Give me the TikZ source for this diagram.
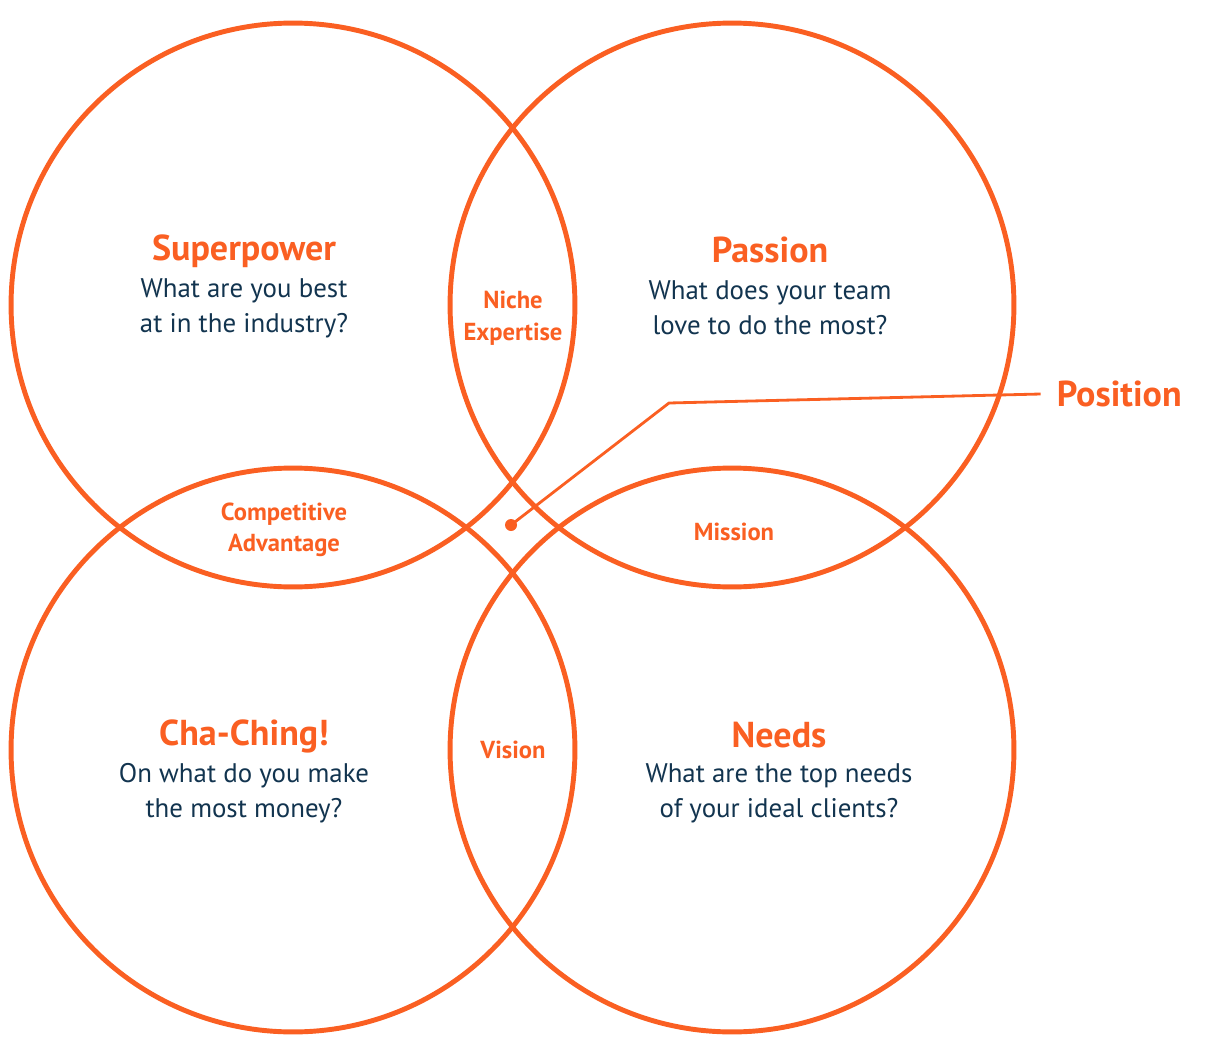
\documentclass[tikz,border=0pt]{standalone}
\usepackage{fontspec}
\setmainfont{PT Sans}
\usepackage{tikz}
\usetikzlibrary{positioning}
\definecolor{ringorange}{HTML}{FA5F22}
\definecolor{asknavy}{HTML}{12344F}

\begin{document}
\begin{tikzpicture}[x=0.02cm, y=-0.02cm,
    ring/.style={draw=ringorange, line width=2.8pt, circle, minimum size=11.28cm, inner sep=0pt},
    title/.style={font=\bfseries\fontsize{20.5}{22}\selectfont, text=ringorange},
    ask/.style={font=\fontsize{15.3}{20}\selectfont, text=asknavy, align=center},
    overlap/.style={font=\bfseries\fontsize{14}{18}\selectfont, text=ringorange, align=center},
    lead/.style={draw=ringorange, line width=1.6pt}
]
\useasboundingbox (0,0) rectangle (1214,1048);

% the four circles
\node[ring] (superC) at (293,305) {};
\node[ring] (passionC) at (732,305) {};
\node[ring] (chachingC) at (293,750) {};
\node[ring] (needsC) at (732,750) {};

% circle texts
\node[title] (superT) at (244,251) {Superpower};
\node[ask] (superQ) at (244,308) {What are you best\\at in the industry?};
\node[title] (passionT) at (770,250) {Passion};
\node[ask] (passionQ) at (770,308) {What does your team\\love to do the most?};
\node[title] (chachingT) at (244,736) {Cha-Ching!};
\node[ask] (chachingQ) at (244,793) {On what do you make\\the most money?};
\node[title] (needsT) at (779,735) {Needs};
\node[ask] (needsQ) at (779,793) {What are the top needs\\of your ideal clients?};

% overlaps
\node[overlap] (niche) at (513,318) {Niche\\Expertise};
\node[overlap] (compet) at (284,530) {Competitive\\Advantage};
\node[overlap] (mission) at (734,532) {Mission};
\node[overlap] (vision) at (513,750) {Vision};

% position callout
\node[title, anchor=west, inner sep=2pt] (position) at (1053,394) {Position};
\coordinate (dot) at (511,525);
\coordinate (bend) at (669,403);
\fill[ringorange] (dot) circle (0.12cm);
\draw[lead] (dot) -- (bend) -- ([xshift=-7pt]position.west);
\end{tikzpicture}
\end{document}
